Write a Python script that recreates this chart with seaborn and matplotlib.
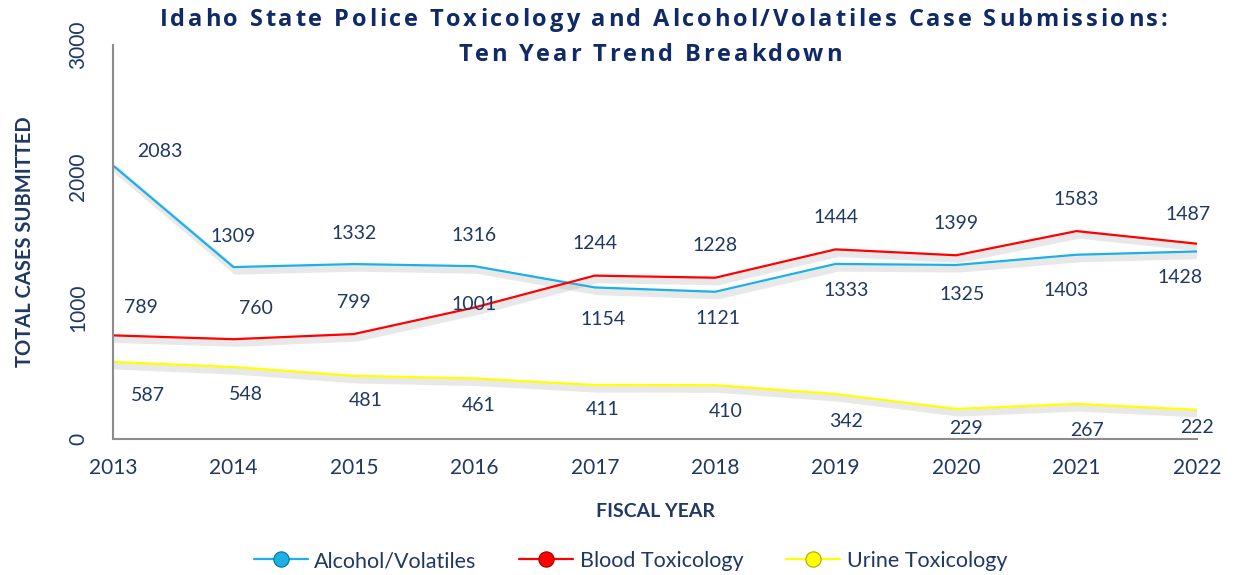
import matplotlib
matplotlib.use("Agg")
import matplotlib.pyplot as plt
import matplotlib.patheffects as pe
from matplotlib.font_manager import FontProperties
from matplotlib.lines import Line2D
import seaborn as sns
import pandas as pd

years = [2013, 2014, 2015, 2016, 2017, 2018, 2019, 2020, 2021, 2022]
alcohol = [2083, 1309, 1332, 1316, 1154, 1121, 1333, 1325, 1403, 1428]
blood = [789, 760, 799, 1001, 1244, 1228, 1444, 1399, 1583, 1487]
urine = [587, 548, 481, 461, 411, 410, 342, 229, 267, 222]
series_names = ["Alcohol/Volatiles", "Blood Toxicology", "Urine Toxicology"]
yticks = [0, 1000, 2000, 3000]
title_lines = ["Idaho State Police Toxicology and Alcohol/Volatiles Case Submissions:",
               "Ten Year Trend Breakdown"]

NAVY = "#1F3864"
TITLE_NAVY = "#0F2A66"
colors = {"Alcohol/Volatiles": "#1CB0E6", "Blood Toxicology": "#FF0000", "Urine Toxicology": "#FFFF00"}
edge = {"Alcohol/Volatiles": "#0A6F96", "Blood Toxicology": "#A00000", "Urine Toxicology": "#A8A800"}

df = pd.DataFrame({
    "year": years * 3,
    "value": alcohol + blood + urine,
    "series": sum([[n] * len(years) for n in series_names], []),
})

sns.set_style("white")
plt.rcParams["font.family"] = ["Lato", "DejaVu Sans"]

W, H = 1241, 575
fig = plt.figure(figsize=(W / 100, H / 100), dpi=100)
ax = fig.add_axes([113 / W, 1 - 439 / H, (1197 - 113) / W, (439 - 45) / H])

sns.lineplot(data=df, x="year", y="value", hue="series", palette=colors,
             hue_order=series_names, linewidth=1.6, ax=ax, legend=False)
for ln in ax.get_lines():
    ln.set_path_effects([pe.SimpleLineShadow(offset=(2, -3), shadow_color="#9A9A9A", alpha=0.22, linewidth=5),
                         pe.Normal()])

ax.set_xlim(2013, 2022)
ax.set_ylim(0, 3000)
ax.set_xticks(years)
ax.set_xticklabels([str(y) for y in years], fontsize=15, color=NAVY)
ax.set_yticks(yticks)
ax.set_yticklabels([str(t) for t in yticks], fontsize=15, color=NAVY, rotation=90, va="center")
ax.tick_params(axis="x", length=0, pad=14)
ax.tick_params(axis="y", length=0, pad=18)
for s in ["top", "right"]:
    ax.spines[s].set_visible(False)
for s in ["left", "bottom"]:
    ax.spines[s].set_color("#8C8C8C")
    ax.spines[s].set_linewidth(1.5)

ax.set_xlabel("FISCAL YEAR", fontsize=14, fontweight="bold", color=NAVY, labelpad=18)
ax.set_ylabel("TOTAL CASES SUBMITTED", fontsize=14.5, fontweight="bold", color=NAVY, labelpad=24)

# data labels (pixel offsets)
alc_off = [(47, -14), (0, -31), (0, -31), (0, -31), (8, 32), (3, 27), (10, 27), (6, 30), (-10, 36), (-17, 26)]
blo_off = [(28, -28), (22, -31), (0, -32), (0, -3), (0, -32), (0, -32), (0, -32), (0, -32), (0, -32), (-9, -29)]
uri_off = [(35, 34), (12, 27), (12, 25), (4, 27), (8, 24), (10, 26), (10, 27), (10, 20), (10, 27), (0, 18)]
for vals, offs in [(alcohol, alc_off), (blood, blo_off), (urine, uri_off)]:
    for x, v, (dx, dy) in zip(years, vals, offs):
        ax.annotate(str(v), (x, v), xytext=(dx, -dy), textcoords="offset pixels",
                    ha="center", va="center", fontsize=14, color=NAVY, annotation_clip=False)

# letter-spaced title
fp = FontProperties(family=["Open Sans", "DejaVu Sans"], weight="bold", size=17)
renderer = fig.canvas.get_renderer()


def spaced_text(text, cx, baseline, track):
    widths = [renderer.get_text_width_height_descent(c, fp, ismath=False)[0] for c in text]
    total = sum(widths) + track * (len(text) - 1)
    x = cx - total / 2
    for c, w in zip(text, widths):
        fig.text(x / W, 1 - baseline / H, c, fontproperties=fp, color=TITLE_NAVY, ha="left", va="baseline")
        x += w + track


spaced_text(title_lines[0], 663.5, 26, 2.8)
spaced_text(title_lines[1], 650, 61, 2.8)

handles = [Line2D([0], [0], color=colors[n], lw=1.6, marker="o", markersize=11,
                  markerfacecolor=colors[n], markeredgecolor=edge[n], markeredgewidth=0.8)
           for n in series_names]
fig.legend(handles, series_names, loc="center", bbox_to_anchor=(0.508, 1 - 561 / H),
           ncol=3, frameon=False, fontsize=15.5, handlelength=2.5, columnspacing=2.0,
           handletextpad=0.3, labelcolor=NAVY)

fig.savefig("out.png", dpi=100)
